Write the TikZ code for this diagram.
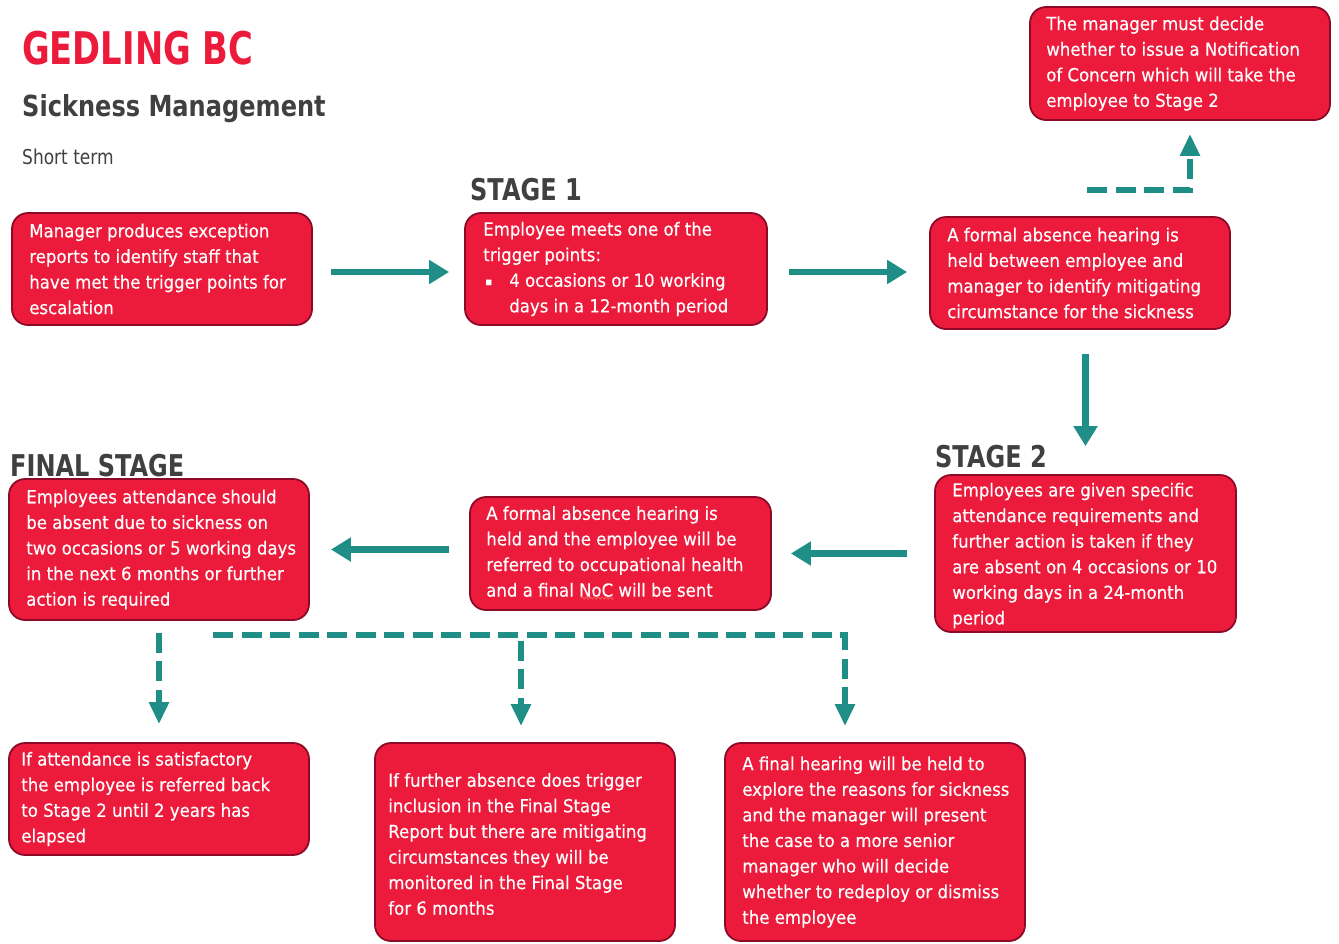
\documentclass[tikz,border=0pt]{standalone}
\usepackage{fontspec}
\setmainfont{DejaVu Sans}
\newfontfamily\boxfont[FakeStretch=0.92,FakeBold=0.3]{DejaVu Sans}
\newfontfamily\headfont[FakeStretch=0.8]{DejaVu Sans}
\newfontfamily\titlefont[FakeStretch=0.75]{DejaVu Sans}
\newfontfamily\subfont[FakeStretch=0.83]{DejaVu Sans}
\usetikzlibrary{arrows.meta,decorations.pathmorphing}
\definecolor{boxred}{RGB}{236,27,59}
\definecolor{boxborder}{RGB}{140,10,40}
\definecolor{teal}{RGB}{31,142,135}
\definecolor{headgray}{RGB}{64,64,64}
\definecolor{squig}{RGB}{255,90,90}
\tikzset{
  box/.style={draw=boxborder, line width=1.8pt, fill=boxred, rounded corners=16pt, inner sep=0pt},
  btext/.style={text=white, font=\boxfont\fontsize{18}{25.6}\selectfont, align=left, inner sep=0pt, anchor=west},
  head/.style={text=headgray, font=\headfont\bfseries\fontsize{30}{34}\selectfont, anchor=base west, inner sep=0pt},
  arr/.style={draw=teal, line width=6.5pt, -{Triangle[width=23pt,length=20pt]}},
  darr/.style={draw=teal, line width=6.5pt, dash pattern=on 20pt off 8.5pt, -{Triangle[width=19pt,length=22pt]}},
}
\begin{document}
\begin{tikzpicture}[x=1pt,y=-1pt]
\useasboundingbox (0,0) rectangle (1339,943);
% titles
\node[text=boxred, font=\titlefont\bfseries\fontsize{45}{50}\selectfont, anchor=base west, inner sep=0pt] (title) at (22,64) {GEDLING BC};
\node[text=headgray, font=\subfont\bfseries\fontsize{29}{34}\selectfont, anchor=base west, inner sep=0pt] (sub) at (22,116) {Sickness Management};
\node[text=headgray, font=\subfont\fontsize{20.5}{24}\selectfont, anchor=base west, inner sep=0pt] (short) at (22,164) {Short term};
\node[head] (h1) at (470,200) {STAGE 1};
\node[head] (h2) at (935,467) {STAGE 2};
\node[head] (hf) at (10,476) {FINAL STAGE};
% boxes
\node[box, minimum width=300pt, minimum height=112pt] (a) at (162,269) {};
\node[btext] (at) at ([xshift=18pt]a.west) {Manager produces exception\\reports to identify staff that\\have met the trigger points for\\escalation};
\node[box, minimum width=302pt, minimum height=112pt] (s1) at (616,269) {};
\node[btext] (s1t) at ([xshift=19pt]s1.west) {Employee meets one of the\\trigger points:\\\makebox[26pt][l]{\hspace{2pt}\raisebox{1.5pt}{\fontsize{11}{12}\selectfont▪}}4 occasions or 10 working\\\hspace*{26pt}days in a 12-month period};
\node[box, minimum width=300pt, minimum height=112pt] (c) at (1080,273) {};
\node[btext] (ct) at ([xshift=18pt]c.west) {A formal absence hearing is\\held between employee and\\manager to identify mitigating\\circumstance for the sickness};
\node[box, minimum width=300pt, minimum height=113pt] (t) at (1180,63.5) {};
\node[btext] (tt) at ([xshift=17pt]t.west) {The manager must decide\\whether to issue a Notification\\of Concern which will take the\\employee to Stage 2};
\node[box, minimum width=301pt, minimum height=157pt] (s2) at (1085.5,553.5) {};
\node[btext] (s2t) at ([xshift=18pt,yshift=-2pt]s2.west) {Employees are given specific\\attendance requirements and\\further action is taken if they\\are absent on 4 occasions or 10\\working days in a 24-month\\period};
\node[box, minimum width=301pt, minimum height=113pt] (m) at (620.5,553.5) {};
\node[btext] (mt) at ([xshift=17pt,yshift=2pt]m.west) {A formal absence hearing is\\held and the employee will be\\referred to occupational health\\and a final NoC will be sent};
\node[box, minimum width=300pt, minimum height=141pt] (f) at (159,549.5) {};
\node[btext] (ft) at ([xshift=18pt]f.west) {Employees attendance should\\be absent due to sickness on\\two occasions or 5 working days\\in the next 6 months or further\\action is required};
\node[box, minimum width=300pt, minimum height=112pt] (bl) at (159,799) {};
\node[btext] (blt) at ([xshift=13pt]bl.west) {If attendance is satisfactory\\the employee is referred back\\to Stage 2 until 2 years has\\elapsed};
\node[box, minimum width=300pt, minimum height=198pt] (bm) at (525,842) {};
\node[btext] (bmt) at ([xshift=14pt,yshift=-2pt]bm.west) {If further absence does trigger\\inclusion in the Final Stage\\Report but there are mitigating\\circumstances they will be\\monitored in the Final Stage\\for 6 months};
\node[box, minimum width=300pt, minimum height=198pt] (br) at (875,842) {};
\node[btext] (brt) at ([xshift=18pt]br.west) {A final hearing will be held to\\explore the reasons for sickness\\and the manager will present\\the case to a more senior\\manager who will decide\\whether to redeploy or dismiss\\the employee};
% spelling squiggle under NoC
\draw[squig, line width=0.8pt, decorate, decoration={snake, amplitude=1.2pt, segment length=4pt}] (581,598) -- (614,598);
% solid connectors
\draw[arr, shorten <=18pt, shorten >=15pt] ([yshift=-3pt]a.east) -- ([yshift=-3pt]s1.west);
\draw[arr, shorten <=21pt, shorten >=22pt] ([yshift=-3pt]s1.east) -- ([yshift=1pt]c.west);
\draw[arr, shorten <=24pt, shorten >=28pt] (c.south -| s2.north) -- (s2.north);
\draw[arr, shorten <=27pt, shorten >=19pt] (s2.west) -- (m.east);
\draw[arr, shorten <=20pt, shorten >=21pt] (f.east -| m.west) -- (f.east);
% dashed connectors
\coordinate (d1) at (1087,190);
\draw[darr, shorten >=13pt] (d1) -| ([xshift=10pt]t.south);
\draw[darr, shorten <=12pt, shorten >=18pt] (f.south) -- (bl.north);
\coordinate (d2) at (213,635);
\draw[darr, shorten >=16pt] (d2) -| ([xshift=-4pt]bm.north);
\draw[darr, shorten >=16pt] (d2) -| ([xshift=-30pt]br.north);
\end{tikzpicture}
\end{document}
